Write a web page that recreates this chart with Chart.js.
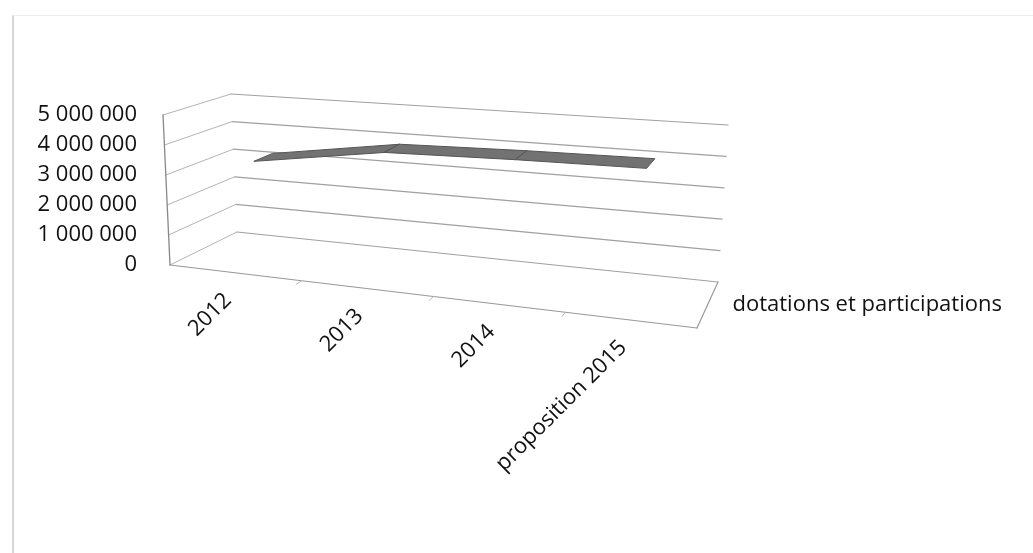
<!DOCTYPE html>
<html>
<head>
<meta charset="utf-8">
<script src="https://cdn.jsdelivr.net/npm/chart.js@4.4.1/dist/chart.umd.min.js"></script>
<style>
  html, body { margin: 0; padding: 0; background: #fff; }
  #chart { display: block; }
</style>
</head>
<body>
<canvas id="chart" width="1033" height="553"></canvas>
<script>
const categories = ['2012', '2013', '2014', 'proposition 2015'];
const seriesName = 'dotations et participations';
const dotations = [3350000, 4000000, 4100000, 4150000];
const valueTicks = [0, 1000000, 2000000, 3000000, 4000000, 5000000];

// screen corners of the 3D plot box (front/back, left/right, bottom/top)
const box = {
    flb: [170, 265], flt: [163, 115],
    frb: [697, 328], frt: [706, 156],
    blb: [237, 232], blt: [231, 94],
    brb: [718, 282], brt: [728, 125]
};

function lerp(a, b, t) {
    return [a[0] + (b[0] - a[0]) * t, a[1] + (b[1] - a[1]) * t];
}

// u: left->right, v: bottom->top, w: front->back (all 0..1)
function project(u, v, w) {
    const fl = lerp(box.flb, box.flt, v), fr = lerp(box.frb, box.frt, v);
    const bl = lerp(box.blb, box.blt, v), br = lerp(box.brb, box.brt, v);
    return lerp(lerp(fl, fr, u), lerp(bl, br, u), w);
}

function formatNumber(v) {
    return String(v).replace(/\B(?=(\d{3})+(?!\d))/g, ' ');
}

function line(ctx, a, b) {
    ctx.beginPath();
    ctx.moveTo(a[0], a[1]);
    ctx.lineTo(b[0], b[1]);
    ctx.stroke();
}

const box3d = {
    id: 'box3d',
    beforeDraw(chart) {
        const ctx = chart.ctx;
        ctx.save();
        ctx.fillStyle = '#fff';
        ctx.fillRect(0, 0, chart.width, chart.height);
        // outer frame of the chart object
        ctx.strokeStyle = '#d6d6d6';
        ctx.lineWidth = 2;
        line(ctx, [13, 553], [13, 15]);
        ctx.strokeStyle = '#ececec';
        ctx.lineWidth = 1;
        line(ctx, [13, 15.5], [1033, 15.5]);
        ctx.restore();
    },
    beforeDatasetsDraw(chart) {
        const ctx = chart.ctx;
        const area = chart.chartArea;
        const xs = chart.scales.x, ys = chart.scales.y;
        const toU = px => (px - area.left) / (area.right - area.left);
        const toV = py => (area.bottom - py) / (area.bottom - area.top);

        ctx.save();
        ctx.lineCap = 'round';

        // gridlines on back wall and side wall
        valueTicks.forEach(t => {
            const v = toV(ys.getPixelForValue(t));
            ctx.strokeStyle = '#a0a0a0';
            ctx.lineWidth = 1.2;
            line(ctx, project(0, v, 1), project(1, v, 1));
            ctx.strokeStyle = '#b4b4b4';
            ctx.lineWidth = 1;
            line(ctx, project(0, v, 0), project(0, v, 1));
        });

        // front left edge and floor
        ctx.strokeStyle = '#888';
        ctx.lineWidth = 1.3;
        line(ctx, project(0, 0, 0), project(0, 1, 0));
        ctx.strokeStyle = '#999';
        ctx.lineWidth = 1.2;
        line(ctx, project(0, 0, 0), project(1, 0, 0));
        line(ctx, project(1, 0, 0), project(1, 0, 1));

        // category tick marks on the floor edge
        ctx.strokeStyle = '#bbb';
        ctx.lineWidth = 1;
        for (let i = 1; i < categories.length; i++) {
            const u = i / categories.length;
            line(ctx, project(u, 0, 0), project(u, 0, -0.1));
        }

        // category labels along the front edge
        ctx.fillStyle = '#111';
        ctx.font = '22px "Open Sans"';
        ctx.textAlign = 'right';
        ctx.textBaseline = 'middle';
        chart.data.labels.forEach((label, i) => {
            const p = project(toU(xs.getPixelForValue(i)), 0, 0);
            ctx.save();
            ctx.translate(p[0] - 8, p[1] + 24);
            ctx.rotate(-Math.PI / 4);
            ctx.fillText(label, 0, 0);
            ctx.restore();
        });

        // series name beside the depth axis
        const s = project(1, 0, 0.5);
        ctx.textAlign = 'left';
        ctx.fillText(chart.data.datasets[0].label, s[0] + 25, s[1]);

        // the line itself, drawn as a ribbon in the middle of the depth
        const pts = chart.getDatasetMeta(0).data.map(el => [toU(el.x), toV(el.y)]);
        const wFront = 0.35, wBack = 0.65;
        ctx.fillStyle = '#727272';
        ctx.strokeStyle = '#555';
        ctx.lineWidth = 1;
        ctx.lineJoin = 'round';
        for (let i = 0; i < pts.length - 1; i++) {
            const a = pts[i], b = pts[i + 1];
            const quad = [
                project(a[0], a[1], wBack), project(b[0], b[1], wBack),
                project(b[0], b[1], wFront), project(a[0], a[1], wFront)
            ];
            ctx.beginPath();
            ctx.moveTo(quad[0][0], quad[0][1]);
            quad.slice(1).forEach(q => ctx.lineTo(q[0], q[1]));
            ctx.closePath();
            ctx.fill();
            ctx.stroke();
        }

        ctx.restore();
        return false;
    }
};

Chart.defaults.font.family = '"Open Sans", sans-serif';

new Chart(document.getElementById('chart'), {
    type: 'line',
    data: {
        labels: categories,
        datasets: [{
            label: seriesName,
            data: dotations,
            borderColor: '#727272',
            pointRadius: 0
        }]
    },
    options: {
        responsive: false,
        animation: false,
        events: [],
        layout: { padding: { left: 38, top: 115, right: 364, bottom: 288 } },
        plugins: { legend: { display: false }, tooltip: { enabled: false } },
        scales: {
            x: { type: 'category', offset: true, display: false },
            y: {
                min: 0,
                max: 5000000,
                afterBuildTicks: scale => { scale.ticks = valueTicks.map(v => ({ value: v })); },
                afterFit: scale => { scale.width = 127; },
                grid: { display: false, drawTicks: false },
                border: { display: false },
                ticks: {
                    padding: 28,
                    color: '#111',
                    font: { size: 22 },
                    callback: v => formatNumber(v)
                }
            }
        }
    },
    plugins: [box3d]
});
</script>
</body>
</html>
